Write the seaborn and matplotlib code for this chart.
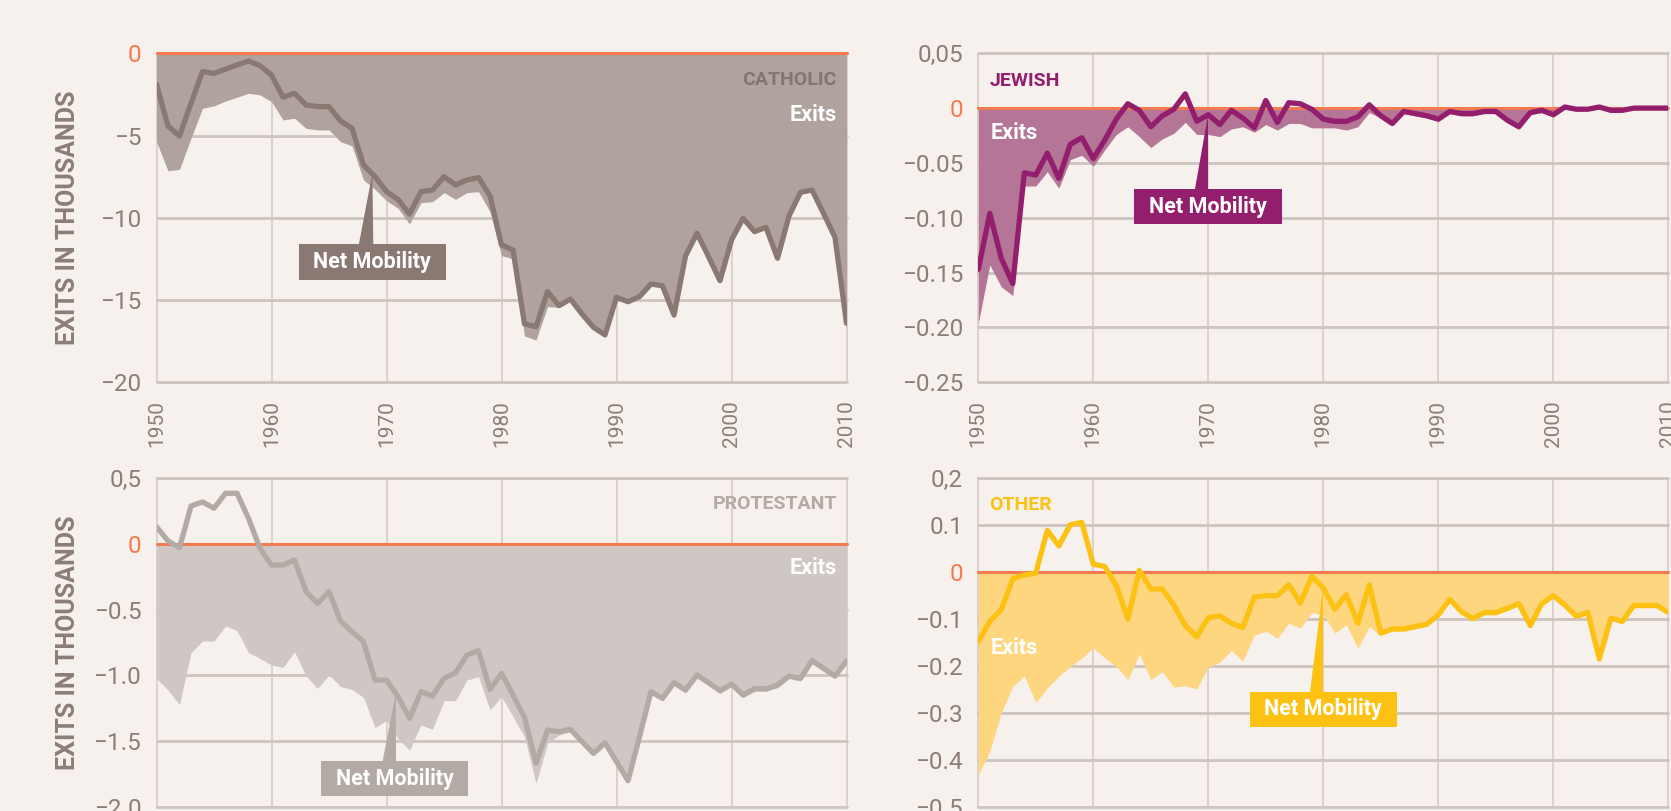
import pandas as pd
import matplotlib
matplotlib.use("Agg")
import matplotlib.pyplot as plt
from matplotlib.patches import Rectangle, Polygon
import seaborn as sns

years = list(range(1950, 2011))

catholic_net = [-1.88, -4.42, -5.03, -3.04, -1.11, -1.22, -0.97, -0.71, -0.47, -0.75,
                -1.32, -2.67, -2.43, -3.14, -3.24, -3.24, -4.11, -4.56, -6.79, -7.50,
                -8.41, -8.88, -9.77, -8.41, -8.31, -7.50, -8.00, -7.70, -7.56, -8.67,
                -11.65, -11.96, -16.45, -16.62, -14.49, -15.34, -14.94, -15.85, -16.66, -17.12,
                -14.83, -15.10, -14.79, -14.02, -14.14, -15.91, -12.32, -10.94, -12.36, -13.82,
                -11.35, -10.03, -10.84, -10.58, -12.46, -9.89, -8.45, -8.31, -9.73, -11.19,
                -16.41]
catholic_exits = [-5.37, -7.15, -7.05, -5.17, -3.34, -3.20, -2.90, -2.67, -2.43, -2.53,
                  -2.94, -4.05, -3.95, -4.56, -4.66, -4.66, -5.37, -5.63, -7.70, -8.27,
                  -8.96, -9.42, -10.37, -9.08, -9.02, -8.47, -8.88, -8.47, -8.41, -9.63,
                  -12.30, -12.50, -17.18, -17.43, -15.40, -15.45, -15.05, -15.95, -16.76, -17.22,
                  -14.93, -15.20, -14.89, -14.12, -14.24, -16.01, -12.42, -11.04, -12.46, -13.92,
                  -11.45, -10.13, -10.94, -10.68, -12.56, -9.99, -8.55, -8.41, -9.83, -11.29,
                  -16.51]

jewish_net = [-0.147, -0.096, -0.137, -0.160, -0.059, -0.061, -0.041, -0.064, -0.033, -0.027,
              -0.046, -0.029, -0.010, 0.004, -0.002, -0.017, -0.007, -0.001, 0.013, -0.012,
              -0.006, -0.015, -0.002, -0.009, -0.018, 0.007, -0.013, 0.005, 0.004, -0.001,
              -0.010, -0.012, -0.012, -0.008, 0.003, -0.007, -0.014, -0.003, -0.005, -0.007,
              -0.010, -0.003, -0.005, -0.005, -0.003, -0.003, -0.011, -0.017, -0.004, -0.002,
              -0.006, 0.001, -0.001, -0.001, 0.001, -0.002, -0.002, 0.0, 0.0, 0.0,
              0.0]
jewish_exits = [-0.196, -0.143, -0.163, -0.171, -0.071, -0.071, -0.058, -0.073, -0.047, -0.043,
                -0.053, -0.038, -0.024, -0.017, -0.026, -0.036, -0.028, -0.023, -0.013, -0.024,
                -0.024, -0.026, -0.019, -0.017, -0.022, -0.015, -0.020, -0.014, -0.014, -0.018,
                -0.018, -0.018, -0.020, -0.017, -0.004, -0.009, -0.016, -0.005, -0.007, -0.009,
                -0.012, -0.005, -0.007, -0.007, -0.005, -0.005, -0.013, -0.019, -0.006, -0.004,
                -0.008, -0.001, -0.002, -0.002, -0.001, -0.003, -0.003, -0.001, -0.001, -0.001,
                -0.001]

protestant_net = [0.132, 0.023, -0.028, 0.289, 0.320, 0.272, 0.386, 0.386, 0.195, -0.033,
                  -0.160, -0.160, -0.122, -0.363, -0.452, -0.363, -0.586, -0.668, -0.744, -1.036,
                  -1.036, -1.162, -1.327, -1.124, -1.157, -1.023, -0.980, -0.845, -0.812, -1.107,
                  -0.985, -1.150, -1.320, -1.670, -1.416, -1.429, -1.411, -1.505, -1.594, -1.513,
                  -1.657, -1.802, -1.467, -1.124, -1.175, -1.056, -1.112, -0.997, -1.056, -1.117,
                  -1.066, -1.150, -1.102, -1.102, -1.074, -1.005, -1.023, -0.888, -0.947, -1.005,
                  -0.891]
protestant_exits = [-1.023, -1.112, -1.221, -0.827, -0.739, -0.739, -0.624, -0.660, -0.827, -0.871,
                    -0.921, -0.939, -0.820, -1.005, -1.099, -0.997, -1.086, -1.107, -1.168, -1.398,
                    -1.345, -1.480, -1.569, -1.378, -1.411, -1.193, -1.193, -1.036, -1.010, -1.264,
                    -1.162, -1.315, -1.467, -1.822, -1.518, -1.454, -1.431, -1.525, -1.614, -1.533,
                    -1.677, -1.822, -1.487, -1.144, -1.195, -1.076, -1.132, -1.017, -1.076, -1.137,
                    -1.086, -1.170, -1.122, -1.122, -1.094, -1.025, -1.043, -0.908, -0.967, -1.025,
                    -0.911]

other_net = [-0.148, -0.105, -0.080, -0.014, -0.006, -0.002, 0.089, 0.056, 0.101, 0.106,
             0.017, 0.012, -0.029, -0.100, 0.004, -0.036, -0.036, -0.070, -0.114, -0.138,
             -0.097, -0.093, -0.109, -0.118, -0.053, -0.050, -0.050, -0.027, -0.066, -0.009,
             -0.034, -0.079, -0.048, -0.109, -0.027, -0.130, -0.121, -0.121, -0.116, -0.111,
             -0.091, -0.058, -0.084, -0.099, -0.086, -0.086, -0.077, -0.067, -0.114, -0.067,
             -0.050, -0.070, -0.094, -0.086, -0.185, -0.098, -0.105, -0.071, -0.071, -0.071,
             -0.086]
other_exits = [-0.432, -0.382, -0.300, -0.244, -0.221, -0.278, -0.247, -0.222, -0.201, -0.183,
               -0.162, -0.183, -0.201, -0.229, -0.175, -0.229, -0.212, -0.245, -0.242, -0.249,
               -0.202, -0.192, -0.167, -0.190, -0.134, -0.126, -0.141, -0.109, -0.119, -0.086,
               -0.091, -0.130, -0.112, -0.162, -0.116, -0.135, -0.126, -0.126, -0.121, -0.116,
               -0.096, -0.063, -0.089, -0.104, -0.091, -0.091, -0.082, -0.072, -0.119, -0.072,
               -0.055, -0.075, -0.099, -0.091, -0.190, -0.103, -0.110, -0.076, -0.076, -0.076,
               -0.091]

catholic_ticks = [0, -5, -10, -15, -20]
catholic_labels = ["0", "−5", "−10", "−15", "−20"]
jewish_ticks = [0.05, 0, -0.05, -0.10, -0.15, -0.20, -0.25]
jewish_labels = ["0,05", "0", "−0.05", "−0.10", "−0.15", "−0.20", "−0.25"]
protestant_ticks = [0.5, 0, -0.5, -1.0, -1.5, -2.0]
protestant_labels = ["0,5", "0", "−0.5", "−1.0", "−1.5", "−2.0"]
other_ticks = [0.2, 0.1, 0, -0.1, -0.2, -0.3, -0.4, -0.5]
other_labels = ["0,2", "0.1", "0", "−0.1", "−0.2", "−0.3", "−0.4", "−0.5"]
decades = [1950, 1960, 1970, 1980, 1990, 2000, 2010]

BG = "#f6f1ed"
ZERO = "#f47b4f"
TXT = "#8c7d77"
HGRID = "#cdc3bf"
VGRID = "#ddd1ce"

sns.set_theme(style="white", rc={"figure.facecolor": BG, "axes.facecolor": BG})
plt.rcParams["font.family"] = ["Roboto", "DejaVu Sans"]

fig = plt.figure(figsize=(16.71, 8.11), dpi=100)
ax_cat = fig.add_axes([0.09366, 0.52861, 0.41293, 0.40567])
ax_jew = fig.add_axes([0.58546, 0.52861, 0.41293, 0.40567])
ax_pro = fig.add_axes([0.09366, 0.00530, 0.41293, 0.40493])
ax_oth = fig.add_axes([0.58546, 0.00530, 0.41293, 0.40493])

# panel settings: colours, limits, label spots (axes fraction), net-mobility box (data)
panels = [
    dict(ax=ax_cat, net=catholic_net, exits=catholic_exits, ticks=catholic_ticks,
         labels=catholic_labels, ylim=(-20, 0), fill="#b0a39e", line="#8a7872",
         title="CATHOLIC", tcol="#85756f", tpos=(0.986, 0.918), epos=(0.986, 0.811), ha="right",
         box=(1962.37, 1975.17, -11.59, -13.78), ptr=(1967.6, 1968.85, 1968.77, -7.3),
         ylab=True, xlab=True),
    dict(ax=ax_jew, net=jewish_net, exits=jewish_exits, ticks=jewish_ticks,
         labels=jewish_labels, ylim=(-0.25, 0.05), fill="#b57597", line="#931e6e",
         title="JEWISH", tcol="#931e6e", tpos=(0.016, 0.916), epos=(0.018, 0.757), ha="left",
         box=(1963.57, 1976.38, -0.0737, -0.1059), ptr=(1968.84, 1970.0, 1970.0, -0.006),
         ylab=False, xlab=True),
    dict(ax=ax_pro, net=protestant_net, exits=protestant_exits, ticks=protestant_ticks,
         labels=protestant_labels, ylim=(-2.0, 0.5), fill="#cfc7c4", line="#b3a9a5",
         title="PROTESTANT", tcol="#b3a9a5", tpos=(0.986, 0.921), epos=(0.986, 0.726), ha="right",
         box=(1964.30, 1977.11, -1.652, -1.919), ptr=(1969.67, 1970.83, 1970.8, -1.137),
         ylab=True, xlab=False),
    dict(ax=ax_oth, net=other_net, exits=other_exits, ticks=other_ticks,
         labels=other_labels, ylim=(-0.5, 0.2), fill="#fdd67f", line="#fdc114",
         title="OTHER", tcol="#fdc114", tpos=(0.016, 0.919), epos=(0.018, 0.482), ha="left",
         box=(1973.63, 1986.38, -0.255, -0.3295), ptr=(1978.84, 1980.0, 1980.0, -0.034),
         ylab=False, xlab=False),
]

for p in panels:
    ax = p["ax"]
    df = pd.DataFrame({"year": years, "net": p["net"], "exits": p["exits"]})

    ax.fill_between(df["year"], df["exits"], 0, color=p["fill"], lw=0, zorder=2)
    ax.axhline(0, color=ZERO, lw=2.2, zorder=3, clip_on=False)
    sns.lineplot(data=df, x="year", y="net", ax=ax, color=p["line"], lw=3.8, zorder=4)

    ax.set_xlim(1950, 2010)
    ax.set_ylim(*p["ylim"])
    ax.set_yticks(p["ticks"])
    ax.set_yticklabels(p["labels"])
    ax.set_xticks(decades)
    ax.set_xticklabels([str(d) for d in decades], rotation=90)
    ax.set_xlabel("")
    ax.set_ylabel("")
    for s in ax.spines.values():
        s.set_visible(False)

    ax.set_axisbelow(True)
    ax.grid(axis="y", color=HGRID, lw=2)
    ax.grid(axis="x", color=VGRID, lw=1.4)
    for gl in ax.get_xgridlines() + ax.get_ygridlines():
        gl.set_clip_on(False)

    ax.tick_params(axis="y", length=0, pad=11, labelsize=17.5, labelcolor=TXT)
    ax.tick_params(axis="x", length=0, pad=13, labelsize=15, labelcolor=TXT,
                   labelbottom=p["xlab"])
    for t in ax.get_yticklabels():
        if t.get_text() == "0":
            t.set_color(ZERO)

    if p["ylab"]:
        ax.set_ylabel("EXITS IN THOUSANDS", fontsize=18, fontweight="bold", color=TXT)
        ax.yaxis.set_label_coords(-0.111, 0.5)

    ax.text(p["tpos"][0], p["tpos"][1], p["title"], transform=ax.transAxes, ha=p["ha"],
            va="center", fontsize=14, fontweight="bold", color=p["tcol"], zorder=6)
    ax.text(p["epos"][0], p["epos"][1], "Exits", transform=ax.transAxes, ha=p["ha"],
            va="center", fontsize=15.5, fontweight="bold", color="white", zorder=6)

    x0, x1, ytop, ybot = p["box"]
    ax.add_patch(Rectangle((x0, ybot), x1 - x0, ytop - ybot, color=p["line"], lw=0, zorder=5))
    bx0, bx1, tx, ty = p["ptr"]
    ax.add_patch(Polygon([(bx0, ytop), (bx1, ytop), (tx, ty)], closed=True,
                         color=p["line"], lw=0, zorder=5))
    ax.text((x0 + x1) / 2, (ytop + ybot) / 2, "Net Mobility", ha="center", va="center",
            fontsize=15.5, fontweight="bold", color="white", zorder=6)

fig.savefig("out.png", dpi=100, facecolor=BG)
